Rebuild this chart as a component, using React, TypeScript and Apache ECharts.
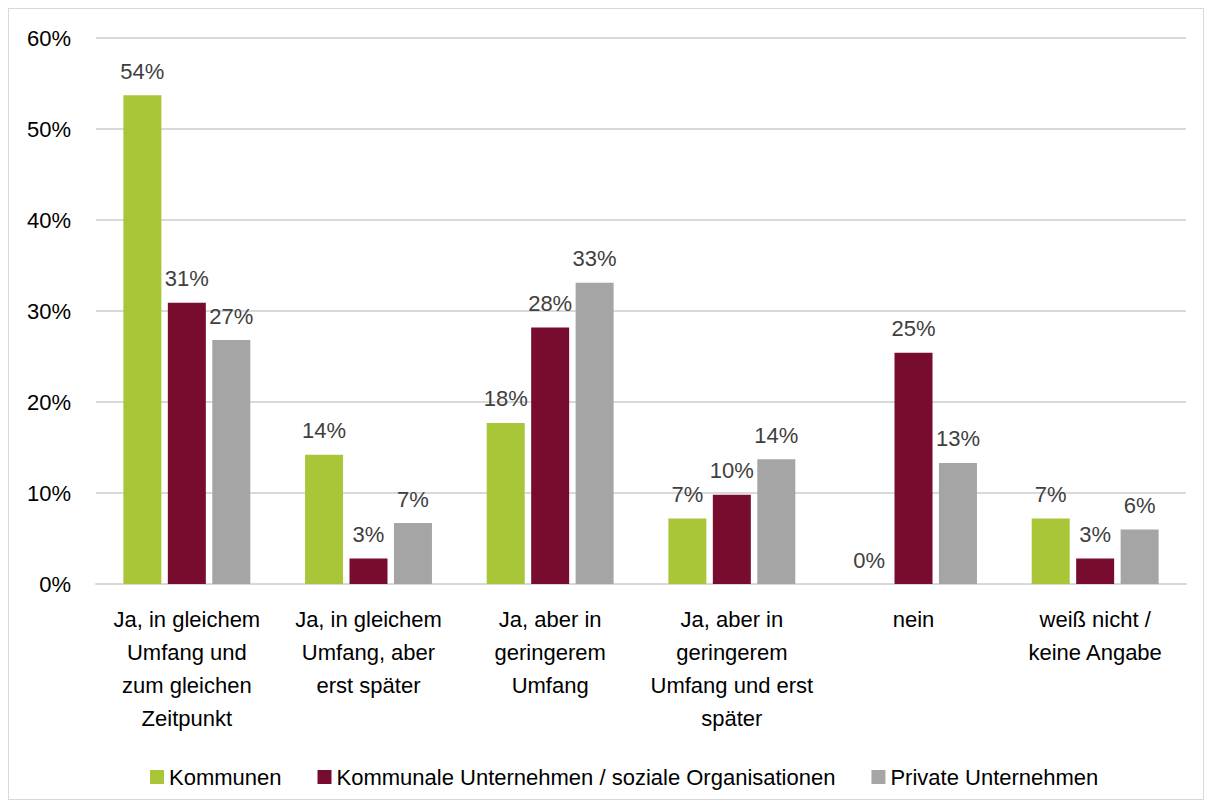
import React, { useEffect, useRef } from "react";
import * as echarts from "echarts";

const categories = [
  "Ja, in gleichem\nUmfang und\nzum gleichen\nZeitpunkt",
  "Ja, in gleichem\nUmfang, aber\nerst später",
  "Ja, aber in\ngeringerem\nUmfang",
  "Ja, aber in\ngeringerem\nUmfang und erst\nspäter",
  "nein",
  "weiß nicht /\nkeine Angabe",
];
const kommunen = [53.7, 14.2, 17.7, 7.2, 0, 7.2];
const kommunaleUnternehmen = [30.9, 2.8, 28.2, 9.8, 25.4, 2.8];
const privateUnternehmen = [26.8, 6.7, 33.1, 13.7, 13.3, 6.0];
const seriesNames = [
  "Kommunen",
  "Kommunale Unternehmen / soziale Organisationen",
  "Private Unternehmen",
];
const colors = ["#A8C637", "#770C2E", "#A5A5A5"];

const FONT = "'Liberation Sans', Arial, sans-serif";

export default function App() {
  const ref = useRef<HTMLDivElement>(null);
  useEffect(() => {
    if (!ref.current) return;
    const chart = echarts.init(ref.current, undefined, { renderer: "svg" });
    const mk = (name: string, data: number[], color: string) => ({
      name,
      type: "bar",
      data,
      barWidth: 38,
      barGap: "17%",
      itemStyle: { color },
      label: {
        show: true,
        position: "top",
        distance: 13,
        color: "#404040",
        fontSize: 22,
        fontFamily: FONT,
        formatter: (p: any) => Math.round(p.value) + "%",
      },
    });
    chart.setOption({
      animation: false,
      textStyle: { fontFamily: FONT },
      grid: { left: 87, right: 17, top: 29, bottom: 215, containLabel: false },
      legend: {
        bottom: 6,
        left: 136,
        itemWidth: 14,
        itemHeight: 14,
        itemGap: 36,
        icon: "rect",
        textStyle: { fontSize: 22, color: "#000", fontFamily: FONT },
        data: seriesNames,
      },
      xAxis: {
        type: "category",
        data: categories,
        axisLine: { lineStyle: { color: "#D9D9D9", width: 2 } },
        axisTick: { show: false },
        axisLabel: {
          interval: 0,
          color: "#000",
          fontSize: 22,
          lineHeight: 33,
          margin: 19,
          fontFamily: FONT,
        },
      },
      yAxis: {
        type: "value",
        min: 0,
        max: 60,
        interval: 10,
        axisLine: { show: false },
        axisTick: { show: false },
        splitLine: { lineStyle: { color: "#D9D9D9", width: 2 } },
        axisLabel: {
          formatter: "{value}%",
          color: "#000",
          fontSize: 22,
          margin: 25,
          fontFamily: FONT,
        },
      },
      series: [
        mk(seriesNames[0], kommunen, colors[0]),
        mk(seriesNames[1], kommunaleUnternehmen, colors[1]),
        mk(seriesNames[2], privateUnternehmen, colors[2]),
      ],
    });
    return () => chart.dispose();
  }, []);
  return (
    <div
      style={{
        width: 1196,
        height: 792,
        border: "1px solid #D9D9D9",
        boxSizing: "border-box",
        background: "#fff",
      }}
    >
      <div ref={ref} style={{ width: 1194, height: 790 }} />
    </div>
  );
}
